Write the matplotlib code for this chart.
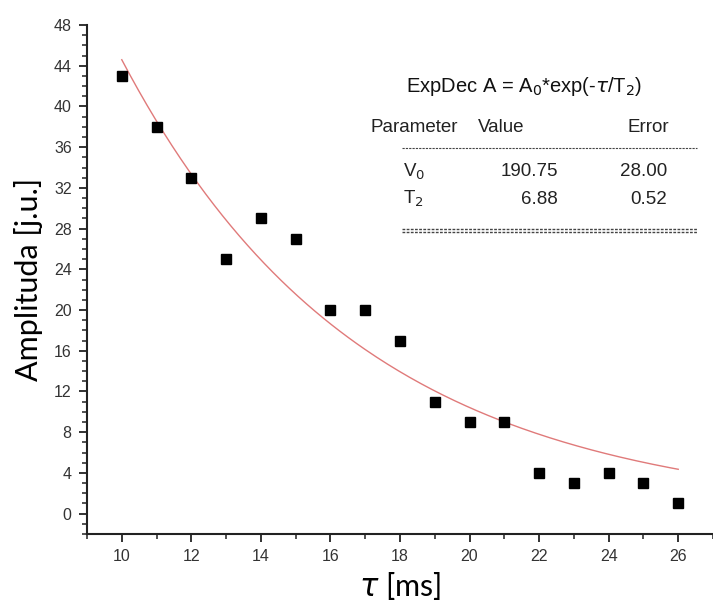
import numpy as np
import matplotlib.pyplot as plt
from matplotlib.ticker import MultipleLocator

# measured echo amplitudes
tau = [10, 11, 12, 13, 14, 15, 16, 17, 18, 19, 20, 21, 22, 23, 24, 25, 26]
amp = [43, 38, 33, 25, 29, 27, 20, 20, 17, 11, 9, 9, 4, 3, 4, 3, 1]

# exponential decay fit parameters
A0, A0_err = 190.75, 28.00
T2, T2_err = 6.88, 0.52

W, H = 713, 601
fig = plt.figure(figsize=(W / 100, H / 100), dpi=100)
ax = fig.add_axes([87 / W, (H - 534) / H, (W - 87) / W, (534 - 25) / H])

tick_font = 'Liberation Sans'
label_font = 'Lato'

t_fit = np.linspace(tau[0], tau[-1], 200)
ax.plot(t_fit, A0 * np.exp(-t_fit / T2), color='#e07a7a', lw=1.0, zorder=2)
ax.plot(tau, amp, 's', color='black', ms=7.5, zorder=3)

ax.set_xlim(9, 27)
ax.set_ylim(-2, 48)
ax.xaxis.set_major_locator(MultipleLocator(2))
ax.xaxis.set_minor_locator(MultipleLocator(1))
ax.yaxis.set_major_locator(MultipleLocator(4))
ax.yaxis.set_minor_locator(MultipleLocator(1))
ax.set_xticks(range(10, 27, 2))

for side in ('top', 'right'):
    ax.spines[side].set_visible(False)
for side in ('left', 'bottom'):
    ax.spines[side].set_linewidth(1.5)
    ax.spines[side].set_color('#222222')

ax.tick_params(which='major', direction='out', length=6, width=1.3,
               color='#222222', labelsize=11.5, labelcolor='#333333', pad=5)
ax.tick_params(which='minor', direction='out', length=3.5, width=1.1, color='#222222')
for lbl in ax.get_xticklabels() + ax.get_yticklabels():
    lbl.set_fontfamily(tick_font)

ax.set_ylabel('Amplituda [j.u.]', fontsize=22, family=label_font, labelpad=8)
ax.set_xlabel(r'$\tau$ [ms]', fontsize=22, family=label_font, labelpad=4)

# fit result table
def fx(px):
    return px / W

def fy(py):
    return (H - py) / H

fs = 13.5
fig.text(fx(524), fy(86), r'ExpDec A = A$_0$*exp(-$\tau$/T$_2$)', fontsize=14.5,
         family=tick_font, ha='center', va='center', color='#111111')
fig.text(fx(371), fy(128), 'Parameter', fontsize=fs, family=tick_font, va='center', color='#222222')
fig.text(fx(501), fy(128), 'Value', fontsize=fs, family=tick_font, ha='center', va='center', color='#222222')
fig.text(fx(648), fy(128), 'Error', fontsize=fs, family=tick_font, ha='center', va='center', color='#222222')

rows = [(r'V$_0$', A0, A0_err), (r'T$_2$', T2, T2_err)]
for i, (name, val, err) in enumerate(rows):
    y = 172 + 27 * i
    fig.text(fx(403), fy(y), name, fontsize=fs, family=tick_font, va='center', color='#222222')
    fig.text(fx(558), fy(y), f'{val:.2f}', fontsize=fs, family=tick_font,
             ha='right', va='center', color='#222222')
    fig.text(fx(667), fy(y), f'{err:.2f}', fontsize=fs, family=tick_font,
             ha='right', va='center', color='#222222')

for y, lw in ((148, 0.8), (229, 1.0), (231.5, 1.0)):
    fig.add_artist(plt.Line2D([fx(402), fx(697)], [fy(y), fy(y)], transform=fig.transFigure,
                              color='#444444', lw=lw, ls=(0, (2, 1))))

fig.savefig('out.png', dpi=100)
